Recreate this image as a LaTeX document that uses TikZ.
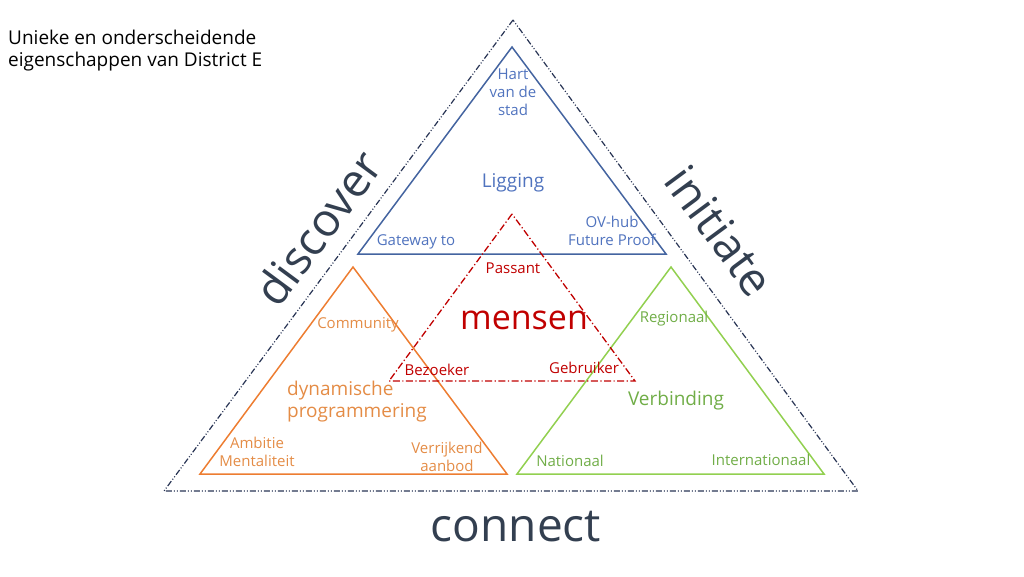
\documentclass[tikz,border=0pt]{standalone}
\usepackage{fontspec}
\setmainfont{Open Sans}
\definecolor{navy}{RGB}{40,52,84}
\definecolor{bline}{RGB}{68,100,160}
\definecolor{btext}{RGB}{80,115,190}
\definecolor{oline}{RGB}{237,125,49}
\definecolor{otext}{RGB}{228,140,70}
\definecolor{gline}{RGB}{146,208,80}
\definecolor{gtext}{RGB}{112,173,71}
\definecolor{rline}{RGB}{192,0,0}
\definecolor{slate}{RGB}{51,63,80}
\tikzset{
  outer/.style={draw=navy, line width=1.2pt, dash pattern=on 6pt off 2pt on 1pt off 2pt on 1pt off 2pt},
  redtri/.style={draw=rline, line width=1.3pt, dash pattern=on 7pt off 2.5pt on 1.2pt off 2.5pt},
  tri/.style={line width=1.5pt},
  lbl/.style={inner sep=0pt, align=center, font=\fontsize{15}{18}\selectfont},
  big/.style={inner sep=0pt, align=center, font=\fontsize{19}{22}\selectfont},
  huge/.style={inner sep=0pt, text=slate, font=\fontsize{46}{50}\selectfont},
}
\begin{document}
\begin{tikzpicture}[x=1pt,y=-1pt]
\useasboundingbox (0,0) rectangle (1024,576);
% outer triangle
\coordinate (oA) at (513,20);
\coordinate (oL) at (164,491);
\coordinate (oR) at (858,491);
\draw[outer] (oA) -- (oL) -- (oR) -- cycle;
% blue
\coordinate (bA) at (512,47);
\coordinate (bL) at (358,254);
\coordinate (bR) at (666,254);
\draw[tri, bline] (bA) -- (bL) -- (bR) -- cycle;
% orange
\coordinate (yA) at (353,267);
\coordinate (yL) at (200,474);
\coordinate (yR) at (507,474);
\draw[tri, oline] (yA) -- (yL) -- (yR) -- cycle;
% green
\coordinate (gA) at (671,267);
\coordinate (gL) at (517,474);
\coordinate (gR) at (824,474);
\draw[tri, gline] (gA) -- (gL) -- (gR) -- cycle;
% red
\coordinate (rA) at (512,214);
\coordinate (rL) at (389,381);
\coordinate (rR) at (635,381);
\draw[redtri] (rA) -- (rL) -- (rR) -- cycle;

% title
\node[anchor=north west, inner sep=0pt, align=left, font=\fontsize{19}{22}\selectfont] (title) at (8,30) {Unieke en onderscheidende\\eigenschappen van District E};

% blue labels
\node[lbl, text=btext] (hart) at (513,92) {Hart\\van de\\stad};
\node[big, text=btext] (ligging) at (513,183) {Ligging};
\node[lbl, text=btext] (gateway) at (416,242) {Gateway to};
\node[lbl, text=btext] (ovhub) at (612,231) {OV-hub\\Future Proof};

% red labels
\node[lbl, text=rline] (passant) at (513,268) {Passant};
\node[inner sep=0pt, text=rline, font=\fontsize{34}{38}\selectfont] (mensen) at (524,320) {mensen};
\node[lbl, text=rline] (bezoeker) at (437,370) {Bezoeker};
\node[lbl, text=rline] (gebruiker) at (584,368) {Gebruiker};

% orange labels
\node[lbl, text=otext] (community) at (358,325) {Community};
\node[big, text=otext, align=left, anchor=west] (dyn) at (287,402) {dynamische\\programmering};
\node[lbl, text=otext] (ambitie) at (257,452) {Ambitie\\Mentaliteit};
\node[lbl, text=otext] (verrijkend) at (447,457) {Verrijkend\\aanbod};

% green labels
\node[lbl, text=gtext] (regionaal) at (674,319) {Regionaal};
\node[big, text=gtext] (verbinding) at (676,401) {Verbinding};
\node[lbl, text=gtext] (nationaal) at (570,461) {Nationaal};
\node[lbl, text=gtext] (internationaal) at (761,460) {Internationaal};

% side words
\node[huge, rotate=53.5] (discover) at (318,228) {discover};
\node[huge, rotate=-53.5] (initiate) at (720,231) {initiate};
\node[huge] (connect) at (516,527) {connect};
\end{tikzpicture}
\end{document}
